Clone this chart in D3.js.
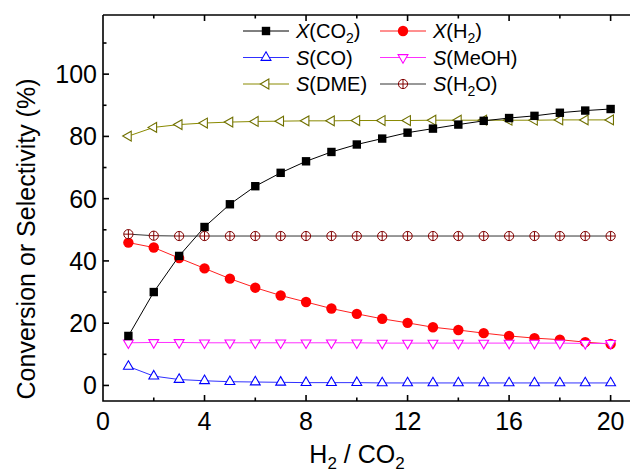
<!DOCTYPE html>
<html>
<head>
  <meta charset="utf-8">
  <script src="https://d3js.org/d3.v7.min.js"></script>
  <style>
    body { margin: 0; background: #fff; }
    svg text { font-family: "Liberation Sans", Arial, sans-serif; }
  </style>
</head>
<body>
<script>
// H2/CO2 feed ratio and the six series (%)
var ratio = [1, 2, 3, 4, 5, 6, 7, 8, 9, 10, 11, 12, 13, 14, 15, 16, 17, 18, 19, 20];
var xCO2  = [15.9, 30.0, 41.6, 50.9, 58.2, 64.0, 68.3, 72.0, 75.0, 77.4, 79.3, 81.2, 82.5, 83.8, 85.0, 85.9, 86.6, 87.6, 88.3, 88.8];
var xH2   = [45.9, 44.3, 40.9, 37.6, 34.3, 31.4, 28.9, 26.8, 24.7, 23.0, 21.4, 20.1, 18.7, 17.8, 16.8, 15.9, 15.2, 14.7, 13.9, 13.3];
var sCO   = [6.1, 3.0, 1.9, 1.5, 1.2, 1.1, 1.0, 0.9, 0.9, 0.9, 0.8, 0.8, 0.8, 0.8, 0.8, 0.8, 0.8, 0.8, 0.8, 0.8];
var sMeOH = [13.7, 13.8, 13.8, 13.7, 13.7, 13.7, 13.7, 13.7, 13.7, 13.7, 13.6, 13.6, 13.6, 13.6, 13.6, 13.6, 13.6, 13.6, 13.5, 13.5];
var sDME  = [80.1, 82.9, 83.8, 84.3, 84.6, 84.8, 84.9, 85.0, 85.0, 85.1, 85.1, 85.1, 85.2, 85.2, 85.2, 85.2, 85.2, 85.3, 85.3, 85.3];
var sH2O  = [48.6, 48.1, 48.0, 48.0, 48.0, 48.0, 48.0, 48.0, 48.0, 48.0, 48.0, 48.0, 48.0, 48.0, 48.0, 48.0, 48.0, 48.0, 48.0, 48.0];

var xTicks = [0, 4, 8, 12, 16, 20];
var yTicks = [0, 20, 40, 60, 80, 100];

var width = 630, height = 474;
var svg = d3.select("body").append("svg")
  .attr("width", width).attr("height", height);

var x = d3.scaleLinear().domain([0, 21]).range([103, 636]);
var y = d3.scaleLinear().domain([-5, 119]).range([401, 15]);

// series: label parts, line colour, marker
var series = [
  {v: xH2,   name: ["X", "(H", "2", ")"],    line: "#ff2020", stroke: "#ff0000", fill: "#ff0000", sym: "circle"},
  {v: sMeOH, name: ["S", "(MeOH)"],          line: "#ff30ff", stroke: "#ff00ff", fill: "#fff",    sym: "down"},
  {v: sCO,   name: ["S", "(CO)"],            line: "#3030ff", stroke: "#0000ff", fill: "#fff",    sym: "up"},
  {v: sH2O,  name: ["S", "(H", "2", "O)"],   line: "#333",    stroke: "#800000", fill: "#fff",    sym: "oplus"},
  {v: sDME,  name: ["S", "(DME)"],           line: "#8a8a00", stroke: "#707000", fill: "#fff",    sym: "left"},
  {v: xCO2,  name: ["X", "(CO", "2", ")"],   line: "#000",    stroke: "#000",    fill: "#000",    sym: "square"}
];

function drawMarker(g, s, cx, cy) {
  var m = g.append("g").attr("transform", "translate(" + cx + "," + cy + ")");
  if (s.sym === "square") {
    m.append("rect").attr("x", -4.2).attr("y", -4.2).attr("width", 8.4).attr("height", 8.4)
      .attr("fill", s.fill);
  } else if (s.sym === "circle") {
    m.append("circle").attr("r", 5.2).attr("fill", s.fill);
  } else if (s.sym === "oplus") {
    m.append("circle").attr("r", 4.6).attr("fill", "#fff").attr("stroke", s.stroke).attr("stroke-width", 1);
    m.append("path").attr("d", "M-4.6,0H4.6M0,-4.6V4.6").attr("stroke", s.stroke).attr("stroke-width", 1);
  } else {
    var rot = s.sym === "up" ? 0 : (s.sym === "down" ? 180 : -90);
    m.append("path")
      .attr("d", d3.symbol().type(d3.symbolTriangle).size(42)())
      .attr("transform", "rotate(" + rot + ")")
      .attr("fill", s.fill).attr("stroke", s.stroke).attr("stroke-width", 1.1);
  }
}

var line = d3.line().x(function (d, i) { return x(ratio[i]); }).y(function (d) { return y(d); });

series.forEach(function (s) {
  var g = svg.append("g");
  g.append("path").attr("d", line(s.v)).attr("fill", "none")
    .attr("stroke", s.line).attr("stroke-width", 1);
  s.v.forEach(function (d, i) { drawMarker(g, s, x(ratio[i]), y(d)); });
});

// frame + ticks (inward)
var ax = svg.append("g").attr("stroke", "#000").attr("stroke-width", 1.6).attr("fill", "none");
ax.append("path").attr("d", "M" + x(0) + "," + y(119) + "V" + y(-5) + "H" + width);
ax.append("path").attr("d", "M" + x(0) + "," + y(119) + "H" + width);

d3.range(10, 120, 10).forEach(function (t) {
  var len = t % 20 === 0 ? 6 : 3.5;
  ax.append("path").attr("d", "M" + x(0) + "," + y(t) + "h" + len);
});
ax.append("path").attr("d", "M" + x(0) + "," + y(0) + "h6");
d3.range(2, 21, 2).forEach(function (t) {
  var len = t % 4 === 0 ? 6 : 3.5;
  ax.append("path").attr("d", "M" + x(t) + "," + y(-5) + "v" + (-len));
  ax.append("path").attr("d", "M" + x(t) + "," + y(119) + "v" + len);
});

svg.selectAll(".ytl").data(yTicks).enter().append("text")
  .attr("x", 97).attr("y", function (d) { return y(d) + 9; })
  .attr("text-anchor", "end").attr("font-size", 25).text(function (d) { return d; });

svg.selectAll(".xtl").data(xTicks).enter().append("text")
  .attr("x", function (d) { return x(d); }).attr("y", 430)
  .attr("text-anchor", "middle").attr("font-size", 25).text(function (d) { return d; });

// axis titles
svg.append("text")
  .attr("transform", "translate(35,239) rotate(-90)")
  .attr("text-anchor", "middle").attr("font-size", 25)
  .text("Conversion or Selectivity (%)");

var xt = svg.append("text").attr("x", 357).attr("y", 463)
  .attr("text-anchor", "middle").attr("font-size", 25);
xt.append("tspan").text("H");
xt.append("tspan").attr("font-size", 17).attr("dy", 6).text("2");
xt.append("tspan").attr("dy", -6).text(" / CO");
xt.append("tspan").attr("font-size", 17).attr("dy", 6).text("2");

// legend
var legendOrder = [5, 0, 2, 1, 4, 3];
legendOrder.forEach(function (si, k) {
  var s = series[si];
  var col = k % 2, row = Math.floor(k / 2);
  var lx = col === 0 ? 243 : 380;
  var ly = 31 + row * 26.5;
  var g = svg.append("g");
  g.append("path").attr("d", "M" + lx + "," + ly + "h46").attr("stroke", s.line).attr("stroke-width", 1);
  drawMarker(g, s, lx + 23, ly);
  var t = g.append("text").attr("x", lx + 53).attr("y", ly + 7).attr("font-size", 20);
  t.append("tspan").attr("font-style", "italic").text(s.name[0]);
  t.append("tspan").text(s.name[1]);
  if (s.name.length > 2) {
    t.append("tspan").attr("font-size", 14).attr("dy", 5).text(s.name[2]);
    t.append("tspan").attr("dy", -5).text(s.name[3]);
  }
});
</script>
</body>
</html>
